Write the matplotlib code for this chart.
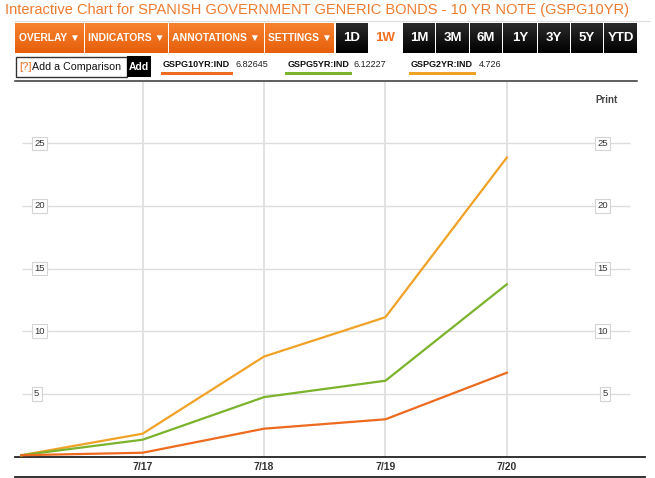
import matplotlib
matplotlib.use("Agg")
import matplotlib.pyplot as plt
import matplotlib.transforms as mtrans
from matplotlib.patches import Rectangle
from matplotlib import font_manager
import numpy as np

plt.rcParams['font.family'] = ['Liberation Sans', 'DejaVu Sans']

# ---------------- data ----------------
dates = ['7/16', '7/17', '7/18', '7/19', '7/20']
ten_yr = [0.1, 0.3, 2.22, 2.97, 6.69]
five_yr = [0.1, 1.34, 4.74, 6.05, 13.75]
two_yr = [0.1, 1.82, 7.98, 11.12, 23.87]
y_ticks = [5, 10, 15, 20, 25]
series_names = ['GSPG10YR:IND', 'GSPG5YR:IND', 'GSPG2YR:IND']
series_last = ['6.82645', '6.12227', '4.726']
title = 'Interactive Chart for SPANISH GOVERNMENT GENERIC BONDS - 10 YR NOTE (GSPG10YR)'
menu_buttons = ['OVERLAY \u25BC', 'INDICATORS \u25BC', 'ANNOTATIONS \u25BC', 'SETTINGS \u25BC']
range_buttons = ['1D', '1W', '1M', '3M', '6M', '1Y', '3Y', '5Y', 'YTD']

C10 = '#EE6A1E'
C5 = '#7BB32C'
C2 = '#F0A226'
ORANGE = '#F07020'

names = {f.name for f in font_manager.fontManager.ttflist}
NARROW = ['Liberation Sans Narrow', 'Liberation Sans', 'DejaVu Sans'] if 'Liberation Sans Narrow' in names \
    else ['Liberation Sans', 'DejaVu Sans']

W, H = 655, 478
fig = plt.figure(figsize=(W / 100, H / 100), dpi=100)
renderer = fig.canvas.get_renderer()

ov = fig.add_axes([0, 0, 1, 1])
ov.set_xlim(0, W)
ov.set_ylim(H, 0)
ov.axis('off')


def fit_text(t, width):
    """shrink a text so that its rendered width is `width` pixels"""
    bb = t.get_window_extent(renderer=renderer)
    t.set_fontsize(t.get_fontsize() * width / bb.width)


# title
tt = ov.text(5, 9.5, title, color='#EE7A2E', fontsize=12.6, va='center', ha='left')
fit_text(tt, 618)
ov.plot([15, 650], [20.5, 20.5], color='#dddddd', lw=0.8)


def grad_button(x0, x1, y0, y1, top, bottom):
    g = np.linspace(0, 1, 30).reshape(-1, 1)
    c0 = np.array(matplotlib.colors.to_rgb(top))
    c1 = np.array(matplotlib.colors.to_rgb(bottom))
    img = c0[None, None, :] * (1 - g[:, :, None]) + c1[None, None, :] * g[:, :, None]
    img = np.repeat(img, 2, axis=1)
    ov.imshow(img, extent=(x0, x1, y1, y0), aspect='auto', interpolation='bilinear', zorder=1)


menu_x = [(15, 84), (85, 168), (169, 264), (265, 334)]
menu_w = [61, 76, 87, 64]
for (x0, x1), lab, tw in zip(menu_x, menu_buttons, menu_w):
    grad_button(x0, x1, 23, 53, '#F7822E', '#E65F0C')
    t = ov.text((x0 + x1) / 2, 37.5, lab, color='white', fontsize=8.5, fontweight='bold',
                ha='center', va='center', zorder=3, family=NARROW)
    fit_text(t, tw)
range_x = [(336, 368), (368, 403), (403, 435), (436, 469), (470, 502),
           (503, 537), (538, 570), (571, 603), (604, 637)]
for (x0, x1), lab in zip(range_x, range_buttons):
    if lab == '1W':
        ov.text((x0 + x1) / 2, 37.5, lab, color=ORANGE, fontsize=9.5, fontweight='bold',
                ha='center', va='center', zorder=3, family=NARROW)
    else:
        grad_button(x0, x1, 23, 53, '#2b2b2b', '#000000')
        ov.text((x0 + x1) / 2, 37.5, lab, color='white', fontsize=9.5, fontweight='bold',
                ha='center', va='center', zorder=3, family=NARROW)

# comparison box
ov.add_patch(Rectangle((15.5, 57), 111, 20, facecolor='white', edgecolor='#333333', lw=1, zorder=2))
ov.text(19, 67, '[?]', color=ORANGE, fontsize=8, ha='left', va='center', zorder=3)
t = ov.text(32, 67, 'Add a Comparison', color='#111111', fontsize=8.3, ha='left', va='center', zorder=3)
fit_text(t, 88)
ov.add_patch(Rectangle((127, 56), 24, 21, facecolor='#000000', edgecolor='none', zorder=2))
ov.text(139, 67, 'Add', color='white', fontsize=7.5, fontweight='bold', ha='center', va='center', zorder=3)

# legend entries
leg_pos = [(163, 236, 161, 233), (288, 354, 285, 352), (411, 479, 409, 476)]
for (tx, vx, bx0, bx1), name, val, col in zip(leg_pos, series_names, series_last, [C10, C5, C2]):
    ov.text(tx, 64.5, name, color='#111111', fontsize=6.5, fontweight='bold', ha='left', va='center')
    ov.text(vx, 64.5, val, color='#222222', fontsize=6.5, ha='left', va='center')
    ov.add_patch(Rectangle((bx0, 72), bx1 - bx0, 2.6, facecolor=col, edgecolor='none'))

ov.plot([15, 637], [81, 81], color='#333333', lw=1.1)
ov.plot([15, 645], [477, 477], color='#222222', lw=1.3)
ov.text(606, 100, 'Print', color='#444444', fontsize=7, fontweight='bold', ha='center', va='center')

# ---------------- chart axes ----------------
ax = fig.add_axes([15 / W, 1 - 457 / H, 630 / W, 375 / H])
ax.set_facecolor('none')
x = np.arange(len(dates))
ax.set_xlim(-0.051, 5.138)
ax.set_ylim(-0.04, 29.9)

for s in ['top', 'left', 'right']:
    ax.spines[s].set_visible(False)
ax.spines['bottom'].set_color('#222222')
ax.spines['bottom'].set_linewidth(1.3)

ax.set_xticks(x[1:])
ax.set_xticklabels(dates[1:], fontsize=7.5, fontweight='bold', color='#333333')
ax.tick_params(axis='x', length=0, pad=3.5)
ax.set_yticks([])
ax.grid(axis='x', color='#e2e2e2', lw=1.4)
ax.set_axisbelow(True)

ax.hlines(y_ticks, 0.007, 5.015, color='#dddddd', lw=1, zorder=0)

tr = mtrans.blended_transform_factory(ax.transAxes, ax.transData)
for v in y_ticks:
    ax.text(19 / 630, v, str(v), transform=tr, ha='left', va='center', fontsize=6.8,
            color='#333333', zorder=4,
            bbox=dict(boxstyle='square,pad=0.25', facecolor='white', edgecolor='#d4d4d4', lw=0.8))
    ax.text(593 / 630, v, str(v), transform=tr, ha='right', va='center', fontsize=6.8,
            color='#333333', zorder=4,
            bbox=dict(boxstyle='square,pad=0.25', facecolor='white', edgecolor='#d4d4d4', lw=0.8))

ax.plot(x, two_yr, color=C2, lw=1.6, zorder=3)
ax.plot(x, five_yr, color=C5, lw=1.6, zorder=3)
ax.plot(x, ten_yr, color=C10, lw=1.6, zorder=3)

fig.savefig('out.png', dpi=100)
